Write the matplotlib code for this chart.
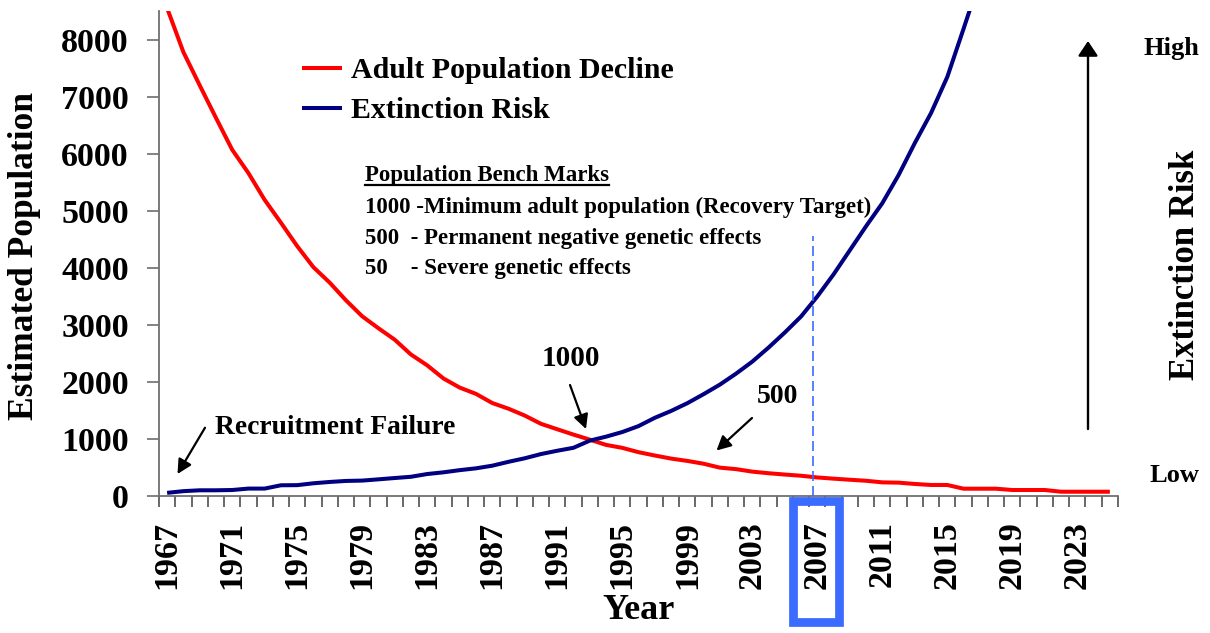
import matplotlib
matplotlib.use("Agg")
import matplotlib.pyplot as plt
from matplotlib.lines import Line2D
from matplotlib.patches import Rectangle
import numpy as np

# ---------------- data ----------------
years = list(range(1967, 2026))
adult_population = [8550, 7780, 7200, 6630, 6070, 5660, 5190, 4790, 4380, 4010,
                     3740, 3430, 3150, 2940, 2740, 2480, 2290, 2060, 1900, 1790,
                     1630, 1530, 1410, 1265, 1170, 1076, 988, 896, 844, 768,
                     710, 656, 615, 566, 497, 471, 427, 399, 376, 355,
                     325, 304, 285, 267, 239, 234, 211, 193, 193, 128,
                     128, 128, 105, 105, 105, 75, 75, 75, 75]
risk_years = list(range(1967, 2018))
extinction_risk = [55, 85, 100, 100, 105, 130, 130, 188, 190, 223,
                   246, 264, 270, 292, 315, 337, 385, 415, 453, 485,
                   531, 599, 661, 735, 793, 845, 970, 1040, 1121, 1225,
                   1370, 1490, 1626, 1784, 1951, 2144, 2355, 2601, 2865, 3146,
                   3497, 3884, 4306, 4728, 5132, 5624, 6186, 6713, 7346, 8190,
                   9050]
year_labels = list(range(1967, 2024, 4))
y_ticks = list(range(0, 9000, 1000))
highlight_year = 2007
benchmarks = ["1000 -Minimum adult population (Recovery Target)",
              "500  - Permanent negative genetic effects",
              "50    - Severe genetic effects"]

# ---------------- style ----------------
plt.rcParams['font.family'] = ['Liberation Serif', 'DejaVu Serif']
plt.rcParams['font.weight'] = 'bold'

W, H = 1210, 633
fig = plt.figure(figsize=(W / 100, H / 100), dpi=100)
fig.patch.set_facecolor('white')

def fx(x):
    return x / W

def fy(y):
    return 1 - y / H

ax_l, ax_r, ax_t, ax_b = 159, 1118, 11, 496
ax = fig.add_axes([fx(ax_l), fy(ax_b), fx(ax_r) - fx(ax_l), (ax_b - ax_t) / H])

red_line, = ax.plot(years, adult_population, color='#FF0000', lw=2.9,
                    solid_joinstyle='round', solid_capstyle='butt',
                    label='Adult Population Decline')
blue_line, = ax.plot(risk_years, extinction_risk, color='#000080', lw=2.9,
                     solid_joinstyle='round', solid_capstyle='butt',
                     label='Extinction Risk')

ax.set_xlim(years[0] - 0.5, years[-1] + 0.5)
ax.set_ylim(0, 8500)

for s in ['top', 'right']:
    ax.spines[s].set_visible(False)
for s in ['left', 'bottom']:
    ax.spines[s].set_color('#707070')
    ax.spines[s].set_linewidth(1.3)

ax.set_yticks(y_ticks)
ax.set_yticklabels([str(v) for v in y_ticks])
ax.tick_params(axis='y', direction='out', length=8.6, width=1.1, color='#606060',
               pad=13, labelsize=24.5)

ax.set_xticks(year_labels)
ax.set_xticklabels([str(v) for v in year_labels], rotation=90)
ax.set_xticks(np.arange(years[0] - 0.5, years[-1] + 1.0, 1.0), minor=True)
ax.tick_params(axis='x', which='major', length=0, pad=18, labelsize=24.5)
ax.tick_params(axis='x', which='minor', direction='out', length=8.0, width=1.1,
               color='#404040')

ax.set_xlabel('Year', fontsize=26, fontweight='bold')
ax.xaxis.set_label_coords(0.5, -(594 - ax_b) / (ax_b - ax_t))
ax.set_ylabel('Estimated Population', fontsize=25.5, fontweight='bold')
ax.yaxis.set_label_coords((25 - ax_l) / (ax_r - ax_l), 0.495)
ax.yaxis.label.set_va('center')

# dashed marker line at highlighted year
ax.vlines(highlight_year - 0.26, 0, 4550, colors='#3B6CFF', linestyles=(0, (6, 3)),
          lw=1.2)

# legend
leg = ax.legend(handles=[red_line, blue_line], loc='upper left',
                bbox_to_anchor=(fx(302), fy(57)), bbox_transform=fig.transFigure,
                frameon=False, fontsize=21.5, handlelength=1.35, handletextpad=0.28,
                labelspacing=0.45, borderpad=0, borderaxespad=0)

# benchmark text block
fig.text(fx(365), fy(181.5), 'Population Bench Marks', fontsize=16.5,
         fontweight='bold', va='baseline', ha='left')
fig.add_artist(Line2D([fx(365), fx(609)], [fy(184.5), fy(184.5)], color='black',
                      lw=1.6))
for txt, base in zip(benchmarks, [212.7, 244, 274]):
    fig.text(fx(365), fy(base), txt, fontsize=16.5, fontweight='bold',
             va='baseline', ha='left')

# annotations with arrows
def arrow(tail, tip, hl=0.43, hw=0.22, lw=1.6):
    ax.annotate('', xy=(tip[0], H - tip[1]), xytext=(tail[0], H - tail[1]),
                xycoords='figure pixels', textcoords='figure pixels',
                arrowprops=dict(arrowstyle=f'-|>,head_length={hl},head_width={hw}',
                                lw=lw, color='black', shrinkA=0, shrinkB=0,
                                mutation_scale=20),
                annotation_clip=False)

fig.text(fx(215), fy(434.3), 'Recruitment Failure', fontsize=19.8,
         fontweight='bold', va='baseline', ha='left')
arrow((205, 427.7), (177.5, 474))
fig.text(fx(542), fy(366), '1000', fontsize=21, fontweight='bold',
         va='baseline', ha='left')
arrow((570, 385), (586, 429))
fig.text(fx(757), fy(403), '500', fontsize=20, fontweight='bold',
         va='baseline', ha='left')
arrow((752, 418), (716.5, 450.5))

# extinction-risk scale on the right
arrow((1088, 429), (1088, 41), hl=0.45, hw=0.3, lw=1.7)
fig.text(fx(1143), fy(55), 'High', fontsize=19, fontweight='bold',
         va='baseline', ha='left')
fig.text(fx(1150), fy(482), 'Low', fontsize=19, fontweight='bold',
         va='baseline', ha='left')
fig.text(fx(1185), fy(265), 'Extinction Risk', fontsize=25, fontweight='bold',
         rotation=90, va='center', ha='center', rotation_mode='anchor')

# highlight box around the 2007 label
fig.add_artist(Rectangle((fx(792.5), fy(621.5)), fx(838.5) - fx(792.5),
                         (621.5 - 501) / H, fill=False, edgecolor='#3B6CFF',
                         lw=6.3, transform=fig.transFigure, clip_on=False))

fig.savefig('out.png', dpi=100, facecolor='white')
